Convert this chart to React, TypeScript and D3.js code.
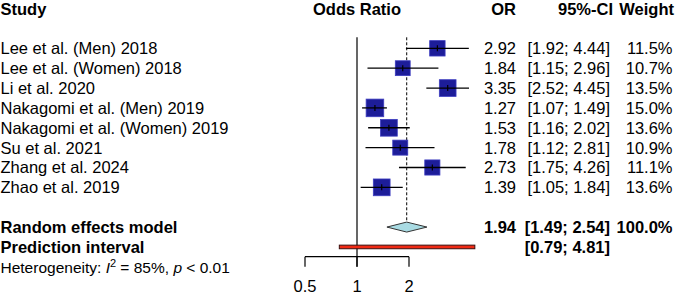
import React from "react";
import * as d3 from "d3";

const studies = [
  "Lee et al. (Men) 2018",
  "Lee et al. (Women) 2018",
  "Li et al. 2020",
  "Nakagomi et al. (Men) 2019",
  "Nakagomi et al. (Women) 2019",
  "Su et al. 2021",
  "Zhang et al. 2024",
  "Zhao et al. 2019",
];
const orValues = [2.92, 1.84, 3.35, 1.27, 1.53, 1.78, 2.73, 1.39];
const lowerCI = [1.92, 1.15, 2.52, 1.07, 1.16, 1.12, 1.75, 1.05];
const upperCI = [4.44, 2.96, 4.45, 1.49, 2.02, 2.81, 4.26, 1.84];
const weights = [11.5, 10.7, 13.5, 15.0, 13.6, 10.9, 11.1, 13.6];
const pooled = [1.94, 1.49, 2.54];
const prediction = [0.79, 4.81];
const tickValues = [0.5, 1, 2];
const tickLabels = ["0.5", "1", "2"];

const W = 675;
const H = 295;
const FONT = "'Liberation Sans', Arial, Helvetica, sans-serif";
const FS = 16.5;

export default function App() {
  const x = d3.scaleLog().domain([0.5, 2]).range([305, 409]);
  const row = d3.scaleLinear().domain([-2, 11]).range([8.6, 266.8]);
  const base = (i: number) => row(i) + 5.9;
  const f2 = d3.format(".2f");
  const f1 = d3.format(".1f");
  const side = d3.scaleSqrt().domain([0, 15]).range([0, 17.6]);

  const axisY = 256.7;
  const refTop = 37.3;
  const refBottom = 266.8;
  const pooledY = row(9);
  const predY = row(10);

  const colOR = 516;
  const colCI = 610;
  const colW = 672.5;

  return (
    <svg
      width={W}
      height={H}
      style={{ position: "absolute", left: 0, top: 0, background: "#fff" }}
      fontFamily={FONT}
      fontSize={FS}
    >
      <rect x={0} y={0} width={W} height={H} fill="#fff" />
      {/* headers */}
      <g fontWeight="bold">
        <text x={0.5} y={base(-2)}>Study</text>
        <text x={x(1)} y={base(-2)} textAnchor="middle">Odds Ratio</text>
        <text x={colOR} y={base(-2)} textAnchor="end">OR</text>
        <text x={colCI + 3} y={base(-2)} textAnchor="end">95%-CI</text>
        <text x={colW + 1.5} y={base(-2)} textAnchor="end">Weight</text>
      </g>

      {/* reference lines */}
      <line x1={x(1)} x2={x(1)} y1={refTop} y2={refBottom} stroke="#000" strokeWidth={1.2} />
      <line
        x1={x(pooled[0])}
        x2={x(pooled[0])}
        y1={refTop}
        y2={pooledY - 5}
        stroke="#000"
        strokeWidth={1}
        strokeDasharray="3,2"
      />

      {/* studies */}
      {studies.map((s, i) => {
        const cy = row(i);
        const sd = side(weights[i]);
        const cx = x(orValues[i]);
        return (
          <g key={s}>
            <text x={0.5} y={base(i)}>{s}</text>
            <rect
              x={cx - sd / 2}
              y={cy - sd / 2}
              width={sd}
              height={sd}
              fill="#1d1d99"
              stroke="#3c3cc0"
              strokeWidth={0.8}
            />
            <line x1={x(lowerCI[i])} x2={x(upperCI[i])} y1={cy} y2={cy} stroke="#000" strokeWidth={1.3} />
            <line x1={cx} x2={cx} y1={cy - 3} y2={cy + 3} stroke="#000" strokeWidth={1.2} />
            <text x={colOR} y={base(i)} textAnchor="end">{f2(orValues[i])}</text>
            <text x={colCI} y={base(i)} textAnchor="end">
              {`[${f2(lowerCI[i])}; ${f2(upperCI[i])}]`}
            </text>
            <text x={colW} y={base(i)} textAnchor="end">{`${f1(weights[i])}%`}</text>
          </g>
        );
      })}

      {/* pooled */}
      <g fontWeight="bold">
        <text x={0.5} y={base(9)}>Random effects model</text>
        <text x={colOR} y={base(9)} textAnchor="end">{f2(pooled[0])}</text>
        <text x={colCI} y={base(9)} textAnchor="end">{`[${f2(pooled[1])}; ${f2(pooled[2])}]`}</text>
        <text x={colW} y={base(9)} textAnchor="end">100.0%</text>
        <text x={0.5} y={base(10)}>Prediction interval</text>
        <text x={colCI} y={base(10)} textAnchor="end">{`[${f2(prediction[0])}; ${f2(prediction[1])}]`}</text>
      </g>
      <polygon
        points={[
          [x(pooled[1]), pooledY],
          [x(pooled[0]), pooledY - 5],
          [x(pooled[2]), pooledY],
          [x(pooled[0]), pooledY + 5],
        ]
          .map((p) => p.join(","))
          .join(" ")}
        fill="#a9dbe3"
        stroke="#333"
        strokeWidth={1}
      />
      <rect
        x={x(prediction[0])}
        y={predY - 1.8}
        width={x(prediction[1]) - x(prediction[0])}
        height={3.6}
        fill="#f02a14"
        stroke="#3a1010"
        strokeWidth={1}
      />

      {/* heterogeneity */}
      <text x={0.5} y={base(11)} fontSize={15.5}>
        Heterogeneity: <tspan fontStyle="italic">I</tspan>
        <tspan dy={-6} fontSize={11}>2</tspan>
        <tspan dy={6}> = 85%, </tspan>
        <tspan fontStyle="italic">p</tspan>
        <tspan> &lt; 0.01</tspan>
      </text>

      {/* axis */}
      <line x1={x(0.5)} x2={x(2)} y1={axisY} y2={axisY} stroke="#000" strokeWidth={1.2} />
      {tickValues.map((t, i) => (
        <g key={t}>
          <line x1={x(t)} x2={x(t)} y1={axisY} y2={axisY + 10} stroke="#000" strokeWidth={1.2} />
          <text x={x(t)} y={291.7} textAnchor="middle">{tickLabels[i]}</text>
        </g>
      ))}
    </svg>
  );
}
